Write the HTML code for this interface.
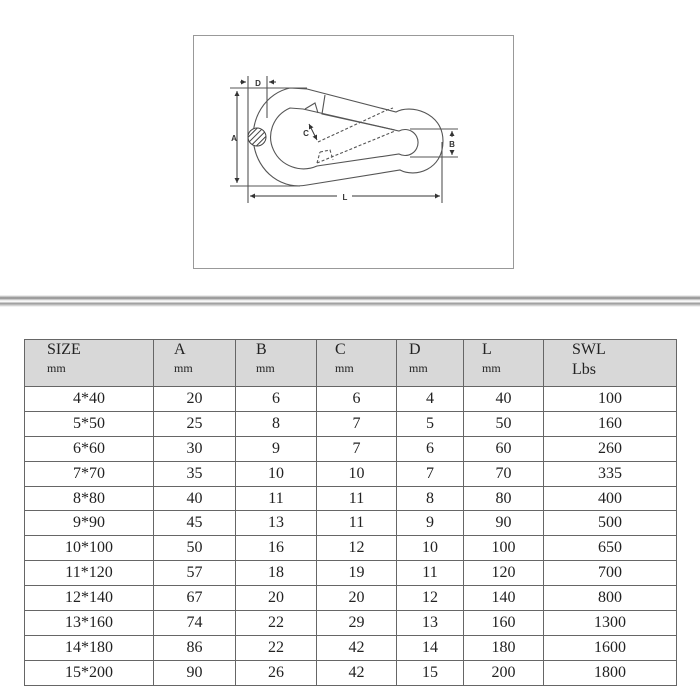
<!DOCTYPE html>
<html><head><meta charset="utf-8"><style>
body{margin:0;width:700px;height:695px;background:#fff;position:relative;overflow:hidden;font-family:"Liberation Serif","Noto Serif CJK SC",serif;}
#frame{position:absolute;left:193px;top:35px;width:319px;height:232px;border:1px solid #999;}
#bar{position:absolute;left:0;top:295px;width:700px;height:12px;background:linear-gradient(#fff 0,#bbb 15%,#888 25%,#eee 45%,#fff 55%,#999 70%,#ccc 85%,#fff 100%);}
table{position:absolute;left:24px;top:339px;width:652px;border-collapse:collapse;table-layout:fixed;}
td{border:1px solid #666;padding:0;font-size:16px;color:#222;text-align:center;height:23.9px;line-height:22px;}
tr.h td{background:#d8d8d8;height:46px;text-align:left;vertical-align:top;line-height:20px;font-size:16px;}
tr.h td span{display:block;font-size:12px;line-height:16px;}
</style></head><body>
<div id="frame"></div>
<svg style="position:absolute;left:0;top:0" width="700" height="300">
<defs>
<pattern id="hat" width="4" height="4" patternUnits="userSpaceOnUse" patternTransform="rotate(45)"><rect width="4" height="4" fill="#fff"/><line x1="0" y1="0" x2="0" y2="4" stroke="#444" stroke-width="2"/></pattern>
<marker id="ar" viewBox="0 0 6 6" refX="6" refY="3" markerWidth="5" markerHeight="5" orient="auto-start-reverse"><path d="M0,0 L6,3 L0,6 Z" fill="#333"/></marker>
</defs>
<g fill="none" stroke="#555" stroke-width="1.1">
<path d="M307,89 L396,112 C410,104 443,112 443,141 C443,170 415,178 400,170 L307,185 A45,49 0 0 1 290,88 Z"/>
<path d="M303,109 L399,131 A13,13 0 1 1 399,154 L317,166 A31,30 0 0 1 290,108 Z"/>
<path d="M325,95 L322,114 L395,130 M305,109 L315,103 L318,113"/>
<path stroke-dasharray="3,2" d="M318,142 L387,110 L393,108 M317,163 L395,131 M320,152 L330,150 L333,160 M317,163 L320,152"/>
<path d="M230,88 L307,88 M230,186 L300,186 M248,76 L248,203 M267,76 L267,118 M442,142 L442,203 M410,129 L458,129 M410,157 L458,157"/>
</g>
<g fill="none" stroke="#333" stroke-width="1">
<path d="M237,91 L237,183" marker-start="url(#ar)" marker-end="url(#ar)"/>
<path d="M250,196 L337,196 M352,196 L440,196" />
<path d="M250,196 L260,196" marker-start="url(#ar)"/><path d="M430,196 L440,196" marker-end="url(#ar)"/>
<path d="M452,131 L452,137 M452,150 L452,155"/>
<path d="M452,137 L452,131" marker-end="url(#ar)"/><path d="M452,150 L452,155" marker-end="url(#ar)"/>
<path d="M240,82 L246,82" marker-end="url(#ar)"/><path d="M276,82 L269,82" marker-end="url(#ar)"/>
<path d="M309,124 L317,140" marker-start="url(#ar)" marker-end="url(#ar)"/>
</g>
<circle cx="257" cy="137" r="9" fill="url(#hat)" stroke="#444"/>
<g font-family="Liberation Sans,sans-serif" font-size="8" font-weight="bold" fill="#333" text-anchor="middle">
<text x="258" y="86">D</text><text x="234" y="141">A</text><text x="306" y="136">C</text><text x="452" y="147">B</text><text x="345" y="200">L</text>
</g>
</svg>
<div id="bar"></div>
<table>
<colgroup><col style="width:129px"><col style="width:82px"><col style="width:81px"><col style="width:80px"><col style="width:67px"><col style="width:80px"><col style="width:133px"></colgroup>
<tr class="h"><td style="padding-left:22px">SIZE<span>mm</span></td><td style="padding-left:20px">A<span>mm</span></td><td style="padding-left:20px">B<span>mm</span></td><td style="padding-left:18px">C<span>mm</span></td><td style="padding-left:12px">D<span>mm</span></td><td style="padding-left:18px">L<span>mm</span></td><td style="padding-left:28px">SWL<span style="font-size:16px;line-height:20px">Lbs</span></td></tr>
<tr><td>4*40</td><td>20</td><td>6</td><td>6</td><td>4</td><td>40</td><td>100</td></tr>
<tr><td>5*50</td><td>25</td><td>8</td><td>7</td><td>5</td><td>50</td><td>160</td></tr>
<tr><td>6*60</td><td>30</td><td>9</td><td>7</td><td>6</td><td>60</td><td>260</td></tr>
<tr><td>7*70</td><td>35</td><td>10</td><td>10</td><td>7</td><td>70</td><td>335</td></tr>
<tr><td>8*80</td><td>40</td><td>11</td><td>11</td><td>8</td><td>80</td><td>400</td></tr>
<tr><td>9*90</td><td>45</td><td>13</td><td>11</td><td>9</td><td>90</td><td>500</td></tr>
<tr><td>10*100</td><td>50</td><td>16</td><td>12</td><td>10</td><td>100</td><td>650</td></tr>
<tr><td>11*120</td><td>57</td><td>18</td><td>19</td><td>11</td><td>120</td><td>700</td></tr>
<tr><td>12*140</td><td>67</td><td>20</td><td>20</td><td>12</td><td>140</td><td>800</td></tr>
<tr><td>13*160</td><td>74</td><td>22</td><td>29</td><td>13</td><td>160</td><td>1300</td></tr>
<tr><td>14*180</td><td>86</td><td>22</td><td>42</td><td>14</td><td>180</td><td>1600</td></tr>
<tr><td>15*200</td><td>90</td><td>26</td><td>42</td><td>15</td><td>200</td><td>1800</td></tr>
</table>
</body></html>
